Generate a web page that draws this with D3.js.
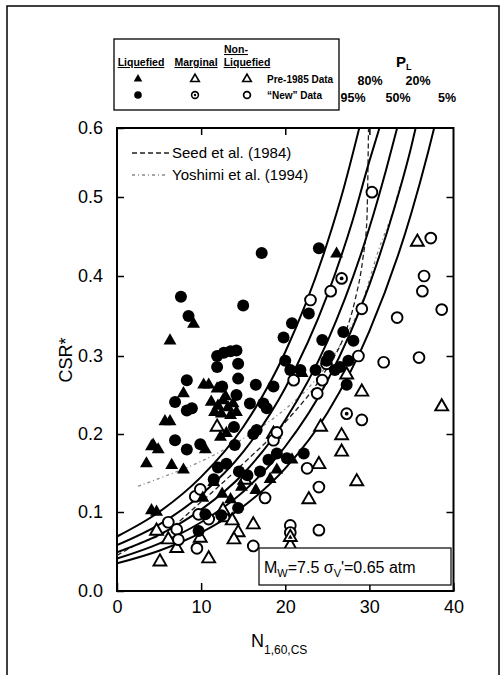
<!DOCTYPE html>
<html>
<head>
<meta charset="utf-8">
<script src="https://cdn.jsdelivr.net/npm/d3@7"></script>
<style>
  body { margin: 0; background: #fff; }
  text { font-family: "Liberation Sans", Arial, sans-serif; }
</style>
</head>
<body>
<script>
// ---- data (N1,60,cs , CSR*) ----
const liqPre = [[9.1,0.340],[6.3,0.319],[7.9,0.252],[10.9,0.263],[11.9,0.258],[10.3,0.263],
  [11.2,0.241],[12.0,0.236],[12.6,0.243],[13.2,0.234],[13.8,0.239],[12.4,0.226],[13.5,0.224],
  [14.2,0.228],[11.6,0.228],[12.9,0.248],[5.7,0.216],[6.3,0.216],[4.3,0.186],[4.9,0.180],
  [10.5,0.180],[12.3,0.196],[13.0,0.201],[3.5,0.162],[4.1,0.184],[6.5,0.160],[7.9,0.154],
  [4.7,0.100],[4.1,0.102],[26.1,0.428],[22.0,0.278],[19.0,0.154],[20.8,0.167],[11.5,0.138],
  [12.5,0.123],[13.5,0.116],[14.8,0.132],[16.5,0.128],[18.2,0.142],[10.2,0.118]];
const liqNew = [[17.2,0.429],[7.6,0.374],[8.5,0.350],[15.0,0.363],[11.9,0.300],[12.7,0.304],
  [13.5,0.306],[14.2,0.307],[11.9,0.286],[14.4,0.290],[14.4,0.271],[8.3,0.269],[6.9,0.241],
  [8.3,0.230],[8.9,0.233],[12.5,0.261],[14.2,0.250],[16.5,0.263],[18.6,0.261],[20.0,0.294],
  [19.8,0.323],[20.8,0.341],[22.8,0.353],[24.0,0.435],[15.8,0.239],[17.4,0.239],[17.8,0.233],
  [13.9,0.209],[16.2,0.200],[21.8,0.282],[6.9,0.192],[9.9,0.187],[8.3,0.180],[26.9,0.330],
  [28.1,0.319],[24.4,0.320],[25.2,0.300],[24.9,0.294],[27.5,0.294],[26.5,0.286],[25.9,0.282],
  [20.6,0.282],[23.6,0.282],[27.3,0.263],[19.0,0.175],[22.2,0.175],[14.0,0.186],[16.6,0.205],
  [20.2,0.169],[9.7,0.076],[14.4,0.105],[12.4,0.096],[10.5,0.097],[12.0,0.157],[13.0,0.162],
  [14.5,0.152],[11.5,0.142],[15.5,0.147],[17.0,0.152],[18.0,0.167]];
const margPre = [[20.6,0.068]];
const margNew = [[26.7,0.397],[27.3,0.226]];
const nonPre = [[11.9,0.209],[18.6,0.200],[27.3,0.276],[29.1,0.254],[38.6,0.235],[24.2,0.209],
  [26.7,0.198],[26.7,0.177],[35.7,0.443],[24.0,0.161],[28.5,0.139],[22.8,0.116],[16.2,0.084],
  [20.6,0.057],[4.7,0.076],[5.1,0.037],[10.9,0.041],[6.1,0.065],[7.1,0.054],[9.9,0.067],
  [12.9,0.093],[13.7,0.089],[14.4,0.074],[13.9,0.065],[15.2,0.141],[12.6,0.102]];
const nonNew = [[23.0,0.370],[30.3,0.507],[25.4,0.381],[21.0,0.269],[23.8,0.252],[18.6,0.192],
  [19.0,0.202],[29.1,0.359],[33.3,0.348],[38.6,0.358],[37.3,0.448],[36.5,0.400],[36.3,0.381],
  [24.9,0.290],[28.7,0.300],[24.4,0.269],[31.7,0.292],[35.9,0.298],[29.1,0.218],[22.6,0.156],
  [24.0,0.132],[17.6,0.118],[20.6,0.083],[20.6,0.074],[24.0,0.077],[16.2,0.057],[6.1,0.087],
  [7.1,0.078],[9.5,0.054],[7.3,0.065],[9.7,0.097],[10.9,0.091],[9.3,0.120],[9.9,0.129]];

// probability contours P_L
const curveP95 = [[0,0.069],[5,0.100],[10,0.145],[15,0.209],[20,0.305],[25,0.442],[27,0.515],[28.8,0.6]];
const curveP80 = [[0,0.058],[5,0.084],[10,0.122],[15,0.177],[20,0.259],[25,0.376],[28,0.470],[30,0.552],[31.2,0.6]];
const curveP50 = [[0,0.049],[5,0.071],[10,0.103],[15,0.149],[20,0.218],[25,0.318],[30,0.461],[32,0.540],[33.3,0.6]];
const curveP20 = [[0,0.041],[5,0.060],[10,0.087],[15,0.126],[20,0.184],[25,0.268],[30,0.389],[33,0.487],[35,0.574],[35.5,0.6]];
const curveP05 = [[0,0.035],[5,0.051],[10,0.074],[15,0.107],[20,0.156],[25,0.227],[30,0.331],[35,0.480],[37,0.566],[37.7,0.6]];
const seedCurve = [[0,0.045],[3,0.062],[5,0.070],[10,0.113],[15,0.162],[20,0.215],[25,0.285],[27,0.325],[28.3,0.370],[29.2,0.420],[29.7,0.470],[29.9,0.6]];
const yoshimiCurve = [[2.5,0.133],[5,0.143],[10,0.165],[15,0.194],[20,0.232],[23,0.262],[26,0.305],[29.3,0.372],[31,0.430],[33.3,0.500],[33.6,0.515]];

const xTicks = [0, 10, 20, 30, 40];
const yTicks = [0, 0.1, 0.2, 0.3, 0.4, 0.5, 0.6];

// ---- layout ----
const W = 504, H = 675;
const plot = { left: 117, right: 453.5, top: 128, bottom: 591 };

const svg = d3.select("body").append("svg")
  .attr("width", W).attr("height", H);

// outer frame
svg.append("rect")
  .attr("x", 7).attr("y", 6).attr("width", 492).attr("height", 690)
  .attr("fill", "none").attr("stroke", "#000").attr("stroke-width", 1.5);

const x = d3.scaleLinear().domain([0, 40]).range([plot.left, plot.right]);
// the scanned axis is slightly uneven, so map each tick to where it sits
const y = d3.scaleLinear().domain(yTicks).range([591, 512, 434, 356, 276, 197, 128]);

svg.append("defs").append("clipPath").attr("id", "clip")
  .append("rect")
  .attr("x", plot.left).attr("y", plot.top)
  .attr("width", plot.right - plot.left).attr("height", plot.bottom - plot.top);

// axes (ticks pointing inward)
const axisFont = g => g.selectAll("text").attr("font-size", 18).attr("fill", "#000")
  .attr("font-family", '"Liberation Sans", Arial, sans-serif');

svg.append("g").attr("transform", `translate(${plot.left},0)`)
  .call(d3.axisLeft(y).tickValues(yTicks).tickFormat(d3.format(".1f")).tickSize(-7).tickPadding(14))
  .call(g => g.select(".domain").remove())
  .call(axisFont);
svg.append("g").attr("transform", `translate(${plot.right},0)`)
  .call(d3.axisRight(y).tickValues(yTicks.slice(1, -1)).tickFormat("").tickSize(-7))
  .call(g => g.select(".domain").remove());
svg.append("g").attr("transform", `translate(0,${plot.bottom})`)
  .call(d3.axisBottom(x).tickValues(xTicks).tickSize(-8).tickPadding(9))
  .call(g => g.select(".domain").remove())
  .call(axisFont);
svg.append("g").attr("transform", `translate(0,${plot.top})`)
  .call(d3.axisTop(x).tickValues([10, 20, 30]).tickFormat("").tickSize(-7))
  .call(g => g.select(".domain").remove());
svg.selectAll(".tick line").attr("stroke", "#000").attr("stroke-width", 1.5);

svg.append("rect")
  .attr("x", plot.left).attr("y", plot.top)
  .attr("width", plot.right - plot.left).attr("height", plot.bottom - plot.top)
  .attr("fill", "none").attr("stroke", "#000").attr("stroke-width", 2);

// curves
const line = d3.line().x(d => x(d[0])).y(d => y(d[1])).curve(d3.curveMonotoneX);
const curves = svg.append("g").attr("clip-path", "url(#clip)");

curves.append("path").datum(yoshimiCurve).attr("d", line)
  .attr("fill", "none").attr("stroke", "#888").attr("stroke-width", 1.3)
  .attr("stroke-dasharray", "3,3,1,3");
curves.append("path").datum(seedCurve).attr("d", line)
  .attr("fill", "none").attr("stroke", "#222").attr("stroke-width", 1.3)
  .attr("stroke-dasharray", "5,3");
curves.selectAll(".pl")
  .data([curveP95, curveP80, curveP50, curveP20, curveP05])
  .enter().append("path")
  .attr("class", "pl")
  .attr("d", line)
  .attr("fill", "none").attr("stroke", "#000").attr("stroke-width", 2);

// points
const tri = d3.symbol().type(d3.symbolTriangle).size(72)();
const triSmall = d3.symbol().type(d3.symbolTriangle).size(10)();
const pts = svg.append("g");

function drawSet(data, kind) {
  const g = pts.selectAll(null).data(data).enter().append("g")
    .attr("transform", d => `translate(${x(d[0])},${y(d[1])})`);
  if (kind === "tri") {
    g.append("path").attr("d", tri).attr("fill", "#000");
  } else if (kind === "dot") {
    g.append("circle").attr("r", 6).attr("fill", "#000");
  } else if (kind === "otri") {
    g.append("path").attr("d", tri).attr("fill", "#fff").attr("stroke", "#000").attr("stroke-width", 1.9);
  } else if (kind === "ocirc") {
    g.append("circle").attr("r", 5.4).attr("fill", "#fff").attr("stroke", "#000").attr("stroke-width", 1.9);
  } else if (kind === "mtri") {
    g.append("path").attr("d", tri).attr("fill", "#fff").attr("stroke", "#000").attr("stroke-width", 1.9);
    g.append("path").attr("d", triSmall).attr("fill", "#000");
  } else if (kind === "mcirc") {
    g.append("circle").attr("r", 5.4).attr("fill", "#fff").attr("stroke", "#000").attr("stroke-width", 1.9);
    g.append("circle").attr("r", 1.9).attr("fill", "#000");
  }
}
drawSet(nonPre, "otri");
drawSet(nonNew, "ocirc");
drawSet(liqPre, "tri");
drawSet(liqNew, "dot");
drawSet(margPre, "mtri");
drawSet(margNew, "mcirc");

// line legend inside plot
svg.append("line").attr("x1", 132).attr("x2", 170).attr("y1", 153).attr("y2", 153)
  .attr("stroke", "#222").attr("stroke-width", 1.3).attr("stroke-dasharray", "5,3");
svg.append("text").attr("x", 172).attr("y", 158).attr("font-size", 15).text("Seed et al. (1984)");
svg.append("line").attr("x1", 132).attr("x2", 168).attr("y1", 175).attr("y2", 175)
  .attr("stroke", "#888").attr("stroke-width", 1.3).attr("stroke-dasharray", "3,3,1,3");
svg.append("text").attr("x", 172).attr("y", 180).attr("font-size", 15).text("Yoshimi et al. (1994)");

// Mw box
svg.append("rect").attr("x", 259).attr("y", 548).attr("width", 192).attr("height", 37)
  .attr("fill", "#fff").attr("stroke", "#000").attr("stroke-width", 1.2);
const mw = svg.append("text").attr("x", 264).attr("y", 573).attr("font-size", 16);
mw.append("tspan").text("M");
mw.append("tspan").attr("font-size", 11).attr("dy", 4).text("W");
mw.append("tspan").attr("dy", -4).text("=7.5 σ");
mw.append("tspan").attr("font-size", 11).attr("dy", 4).text("V");
mw.append("tspan").attr("dy", -4).text("'=0.65 atm");

// axis titles
svg.append("text").attr("transform", "translate(72,360) rotate(-90)")
  .attr("text-anchor", "middle").attr("font-size", 18).text("CSR*");
const xl = svg.append("text").attr("x", 251).attr("y", 647).attr("font-size", 18);
xl.append("tspan").text("N");
xl.append("tspan").attr("font-size", 12).attr("dy", 7).text("1,60,CS");

// symbol legend box
const lg = svg.append("g");
lg.append("rect").attr("x", 114).attr("y", 39).attr("width", 225).attr("height", 71)
  .attr("fill", "#fff").attr("stroke", "#000").attr("stroke-width", 1.3);
const head = [["Liquefied", 141, 66], ["Marginal", 196, 66], ["Non-", 236, 53], ["Liquefied", 247, 66]];
head.forEach(h => {
  lg.append("text").attr("x", h[1]).attr("y", h[2]).attr("text-anchor", "middle")
    .attr("font-size", 10.5).attr("font-weight", "bold").attr("text-decoration", "underline").text(h[0]);
});
const tSmall = d3.symbol().type(d3.symbolTriangle).size(32)();
const legSyms = [
  [138, 79, "tri"], [195, 79, "otri"], [247, 79, "otri"],
  [138, 95, "dot"], [195, 95, "mcirc"], [247, 95, "ocirc"]
];
legSyms.forEach(s => {
  const g = lg.append("g").attr("transform", `translate(${s[0]},${s[1]})`);
  if (s[2] === "tri") g.append("path").attr("d", tSmall).attr("fill", "#000");
  if (s[2] === "otri") g.append("path").attr("d", tSmall).attr("fill", "#fff").attr("stroke", "#000").attr("stroke-width", 1.6);
  if (s[2] === "dot") g.append("circle").attr("r", 3.8).attr("fill", "#000");
  if (s[2] === "ocirc") g.append("circle").attr("r", 3.4).attr("fill", "#fff").attr("stroke", "#000").attr("stroke-width", 1.7);
  if (s[2] === "mcirc") {
    g.append("circle").attr("r", 3.4).attr("fill", "#fff").attr("stroke", "#000").attr("stroke-width", 1.6);
    g.append("circle").attr("r", 1.2).attr("fill", "#000");
  }
});
lg.append("text").attr("x", 267).attr("y", 83).attr("font-size", 10).attr("font-weight", "bold").text("Pre-1985 Data");
lg.append("text").attr("x", 267).attr("y", 99).attr("font-size", 10).attr("font-weight", "bold").text("“New” Data");

// P_L labels
const pl = svg.append("text").attr("x", 396).attr("y", 67).attr("font-size", 15).attr("font-weight", "bold");
pl.append("tspan").text("P");
pl.append("tspan").attr("font-size", 9).attr("dy", 3).text("L");
const plRow1 = [["80%", 370], ["20%", 418]];
const plRow2 = [["95%", 353], ["50%", 398], ["5%", 447]];
plRow1.forEach(p => svg.append("text").attr("x", p[1]).attr("y", 85).attr("text-anchor", "middle")
  .attr("font-size", 12.5).attr("font-weight", "bold").text(p[0]));
plRow2.forEach(p => svg.append("text").attr("x", p[1]).attr("y", 102).attr("text-anchor", "middle")
  .attr("font-size", 12.5).attr("font-weight", "bold").text(p[0]));
</script>
</body>
</html>
